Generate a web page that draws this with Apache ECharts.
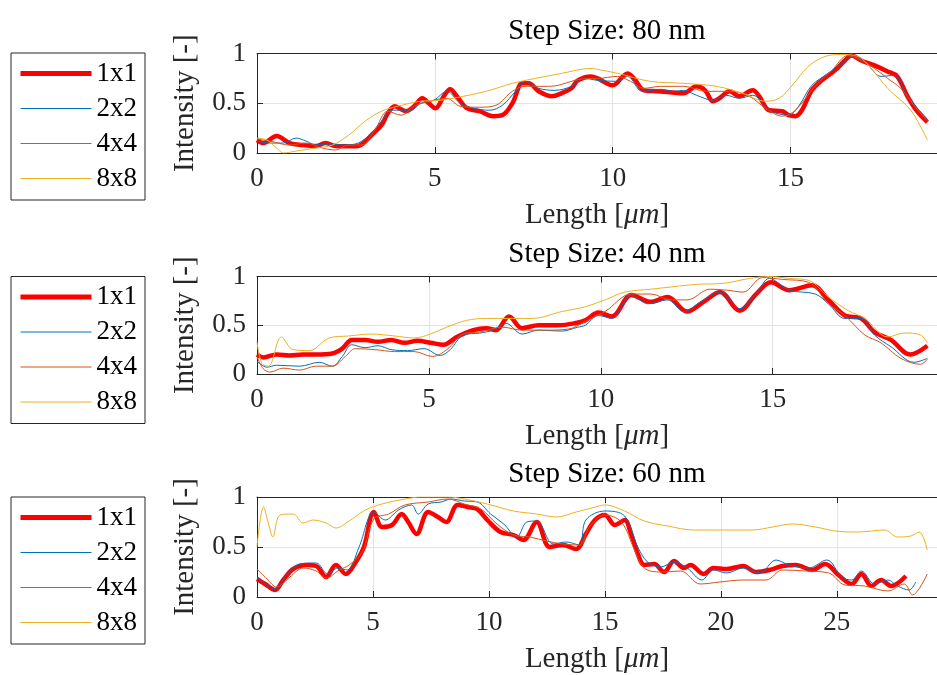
<!DOCTYPE html>
<html>
<head>
<meta charset="utf-8">
<script src="https://cdn.jsdelivr.net/npm/echarts@6/dist/echarts.min.js"></script>
<style>html,body{margin:0;padding:0;background:#fff}#c{width:937px;height:675px}</style>
</head>
<body>
<div id="c"></div>
<script>
// ---- data ----
const seriesNames = ['1x1', '2x2', '4x4', '8x8'];
const titles = ['Step Size: 80 nm', 'Step Size: 40 nm', 'Step Size: 60 nm'];
const xMax = [19.12, 19.78, 29.32];
const yTicks = [0, 0.5, 1];

const p1_1x1 = [[0,0.13],[0.18,0.1],[0.55,0.17],[0.92,0.1],[1.29,0.08],[1.66,0.07],[1.93,0.1],[2.2,0.07],[2.49,0.067],[2.85,0.07],[3.0,0.1],[3.22,0.18],[3.5,0.28],[3.68,0.4],[3.87,0.47],[4.05,0.44],[4.19,0.42],[4.42,0.47],[4.65,0.55],[4.83,0.5],[5.02,0.45],[5.25,0.57],[5.43,0.64],[5.62,0.57],[5.9,0.45],[6.26,0.42],[6.63,0.37],[6.9,0.38],[7.18,0.5],[7.46,0.7],[7.64,0.7],[7.92,0.62],[8.29,0.57],[8.56,0.6],[8.84,0.65],[9.02,0.73],[9.39,0.77],[9.58,0.75],[10,0.68],[10.42,0.8],[10.6,0.75],[10.88,0.63],[11.25,0.62],[11.62,0.61],[11.99,0.6],[12.36,0.67],[12.6,0.63],[12.82,0.52],[13.0,0.55],[13.29,0.62],[13.56,0.57],[13.94,0.63],[14.12,0.57],[14.4,0.43],[14.77,0.42],[14.95,0.38],[15.14,0.37],[15.32,0.43],[15.6,0.63],[15.88,0.73],[16.25,0.83],[16.53,0.93],[16.71,0.98],[16.99,0.93],[17.36,0.88],[17.73,0.82],[18.0,0.77],[18.29,0.57],[18.56,0.42],[18.85,0.31]];
const p1_2x2 = [[0,0.12],[0.37,0.1],[0.74,0.1],[1.1,0.15],[1.38,0.12],[1.66,0.08],[2.03,0.09],[2.39,0.08],[2.76,0.09],[3.13,0.17],[3.5,0.32],[3.78,0.43],[4.05,0.43],[4.33,0.43],[4.6,0.5],[4.97,0.53],[5.34,0.62],[5.71,0.5],[6.08,0.45],[6.54,0.43],[6.9,0.48],[7.27,0.62],[7.55,0.72],[7.92,0.65],[8.38,0.63],[8.84,0.67],[9.2,0.75],[9.58,0.73],[10.14,0.72],[10.42,0.77],[10.83,0.62],[11.34,0.64],[11.71,0.62],[11.99,0.63],[12.36,0.58],[12.82,0.53],[13.19,0.58],[13.56,0.55],[13.94,0.58],[14.4,0.43],[14.95,0.38],[15.23,0.47],[15.6,0.68],[16.06,0.8],[16.44,0.9],[16.71,0.97],[17.08,0.92],[17.55,0.77],[17.92,0.78],[18.29,0.57],[18.85,0.34]];
const p1_4x4 = [[0,0.14],[0.37,0.12],[0.92,0.08],[1.38,0.1],[1.84,0.05],[2.2,0.03],[2.58,0.08],[2.95,0.08],[3.31,0.23],[3.68,0.42],[4.05,0.38],[4.42,0.47],[4.97,0.53],[5.34,0.55],[5.71,0.47],[6.26,0.46],[6.72,0.48],[7.18,0.62],[7.55,0.67],[8.1,0.67],[8.47,0.68],[8.93,0.73],[9.39,0.75],[9.58,0.75],[10.14,0.77],[10.5,0.72],[10.88,0.65],[11.34,0.67],[11.99,0.67],[12.64,0.62],[13.29,0.62],[13.84,0.57],[14.3,0.45],[14.77,0.37],[15.14,0.43],[15.69,0.67],[16.16,0.83],[16.62,0.98],[16.99,0.93],[17.36,0.85],[17.73,0.75],[18.1,0.65],[18.47,0.48],[18.85,0.32]];
const p1_8x8 = [[0,0.15],[0.28,0.13],[0.55,0.05],[0.74,0.0],[1.1,0.02],[1.66,0.05],[2.12,0.08],[2.58,0.18],[3.04,0.32],[3.5,0.42],[3.96,0.47],[4.6,0.52],[5.16,0.53],[5.8,0.57],[6.45,0.62],[7.18,0.7],[7.83,0.75],[8.56,0.8],[9.39,0.85],[9.58,0.84],[10.14,0.8],[11.06,0.72],[11.99,0.7],[12.92,0.67],[13.66,0.6],[14.3,0.52],[14.68,0.55],[15.05,0.68],[15.5,0.87],[15.97,0.97],[16.44,0.99],[16.9,0.97],[17.27,0.85],[17.73,0.65],[18.38,0.43],[18.85,0.13]];

const p2_1x1 = [[0,0.2],[0.19,0.17],[0.57,0.2],[0.95,0.19],[1.33,0.2],[1.71,0.2],[2.19,0.21],[2.48,0.26],[2.76,0.35],[3.14,0.35],[3.52,0.33],[3.9,0.35],[4.29,0.32],[4.67,0.34],[5.05,0.32],[5.43,0.3],[5.81,0.38],[6.29,0.45],[6.67,0.47],[6.95,0.45],[7.33,0.59],[7.71,0.47],[8.19,0.5],[8.76,0.5],[9.24,0.52],[9.55,0.55],[9.93,0.63],[10.32,0.59],[10.89,0.81],[11.46,0.74],[11.94,0.79],[12.51,0.64],[12.99,0.74],[13.47,0.84],[14.04,0.65],[14.52,0.82],[14.95,0.94],[15.48,0.86],[16.15,0.91],[16.62,0.76],[17.1,0.6],[17.58,0.57],[17.96,0.43],[18.44,0.35],[19.0,0.2],[19.5,0.29]];
const p2_2x2 = [[0,0.13],[0.29,0.07],[0.57,0.09],[1.24,0.08],[1.81,0.12],[2.19,0.08],[2.48,0.18],[2.76,0.3],[3.14,0.27],[3.52,0.29],[3.9,0.25],[4.38,0.24],[4.86,0.26],[5.33,0.19],[5.62,0.25],[6.0,0.4],[6.48,0.42],[6.86,0.45],[7.24,0.52],[7.71,0.41],[8.19,0.45],[8.86,0.44],[9.33,0.48],[9.55,0.5],[9.93,0.6],[10.32,0.57],[10.89,0.81],[11.37,0.72],[11.94,0.76],[12.42,0.64],[12.9,0.74],[13.47,0.84],[14.04,0.67],[14.52,0.82],[14.9,0.98],[15.48,0.86],[16.24,0.82],[16.62,0.72],[17.1,0.57],[17.58,0.57],[17.96,0.4],[18.44,0.28],[19.11,0.12],[19.5,0.16]];
const p2_4x4 = [[0,0.18],[0.19,0.05],[0.38,0.02],[0.76,0.06],[1.24,0.04],[1.71,0.08],[2.19,0.08],[2.57,0.18],[2.86,0.26],[3.43,0.25],[4.0,0.23],[4.57,0.23],[5.1,0.18],[5.52,0.25],[6.0,0.41],[6.48,0.43],[7.14,0.48],[7.71,0.45],[8.38,0.45],[9.05,0.46],[9.55,0.54],[10.12,0.64],[10.89,0.82],[11.46,0.82],[12.04,0.76],[12.51,0.76],[13.18,0.87],[13.66,0.86],[14.14,0.84],[14.71,0.99],[15.29,0.97],[16.05,0.94],[16.62,0.72],[17.1,0.6],[17.68,0.4],[18.15,0.32],[18.73,0.16],[19.3,0.1],[19.5,0.15]];
const p2_8x8 = [[0,0.33],[0.14,0.11],[0.33,0.08],[0.71,0.38],[1.05,0.25],[1.52,0.24],[2.1,0.37],[2.67,0.39],[3.33,0.41],[4.0,0.39],[4.57,0.37],[5.05,0.41],[5.52,0.48],[6.1,0.55],[6.67,0.57],[7.43,0.57],[8.0,0.57],[8.86,0.64],[9.55,0.69],[10.12,0.76],[10.7,0.84],[11.46,0.87],[12.23,0.9],[12.8,0.92],[13.57,0.93],[14.33,0.98],[14.9,1.0],[15.48,0.98],[16.05,0.96],[16.62,0.79],[17.2,0.65],[17.68,0.57],[18.35,0.38],[18.82,0.42],[19.3,0.4],[19.5,0.32]];

const p3_1x1 = [[0,0.18],[0.35,0.13],[0.78,0.07],[1.13,0.17],[1.56,0.28],[2.13,0.32],[2.55,0.31],[2.98,0.2],[3.4,0.32],[3.83,0.23],[4.26,0.35],[4.61,0.5],[5.04,0.85],[5.39,0.7],[5.82,0.72],[6.24,0.83],[6.52,0.75],[6.88,0.63],[7.38,0.85],[7.8,0.8],[8.16,0.75],[8.65,0.92],[9.08,0.9],[9.5,0.88],[9.93,0.77],[10.5,0.65],[11.06,0.62],[11.49,0.57],[12.06,0.75],[12.62,0.5],[13.19,0.52],[13.76,0.48],[14.18,0.63],[14.57,0.77],[15.0,0.82],[15.43,0.72],[15.85,0.77],[16.13,0.63],[16.42,0.43],[16.7,0.32],[17.13,0.33],[17.55,0.25],[17.98,0.36],[18.4,0.29],[18.69,0.32],[19.26,0.23],[19.68,0.29],[20.26,0.28],[20.96,0.31],[21.52,0.25],[22.09,0.27],[22.66,0.31],[23.23,0.32],[23.94,0.27],[24.5,0.33],[25.07,0.22],[25.64,0.13],[26.06,0.23],[26.49,0.11],[26.91,0.17],[27.34,0.11],[27.98,0.21]];
const p3_2x2 = [[0,0.2],[0.43,0.12],[0.78,0.08],[1.28,0.22],[1.84,0.33],[2.55,0.34],[3.05,0.23],[3.48,0.29],[3.9,0.27],[4.4,0.5],[5.04,0.85],[5.53,0.77],[6.1,0.87],[6.67,0.92],[6.95,0.83],[7.38,0.93],[7.94,0.95],[8.37,0.98],[8.94,0.96],[9.5,0.95],[10.07,0.83],[10.64,0.73],[11.2,0.6],[11.63,0.75],[12.06,0.76],[12.77,0.53],[13.33,0.55],[13.9,0.52],[14.18,0.77],[15,0.86],[15.85,0.81],[16.42,0.5],[16.84,0.35],[17.41,0.3],[17.98,0.35],[18.55,0.29],[19.18,0.17],[19.68,0.27],[20.25,0.24],[20.96,0.29],[21.67,0.24],[22.38,0.37],[22.94,0.32],[23.79,0.29],[24.57,0.37],[25.21,0.2],[25.64,0.17],[26.06,0.26],[26.63,0.13],[27.2,0.17],[27.62,0.11],[28.12,0.07],[28.4,0.15]];
const p3_4x4 = [[0,0.28],[0.43,0.18],[0.85,0.1],[1.42,0.2],[1.99,0.29],[2.55,0.26],[2.98,0.19],[3.55,0.27],[3.97,0.32],[4.54,0.45],[5.04,0.78],[5.67,0.83],[6.38,0.92],[7.38,0.95],[8.23,0.98],[8.94,0.93],[9.65,0.88],[10.35,0.73],[11.06,0.62],[11.77,0.6],[12.48,0.56],[13.19,0.53],[13.9,0.52],[14.33,0.7],[15,0.82],[15.71,0.75],[16.28,0.47],[16.7,0.29],[17.41,0.25],[18.26,0.26],[19.11,0.13],[19.96,0.15],[20.96,0.17],[21.95,0.17],[22.66,0.27],[23.65,0.26],[24.65,0.24],[25.35,0.12],[26.2,0.11],[27.2,0.06],[27.91,0.13],[28.26,0.02],[28.9,0.23]];
const p3_8x8 = [[0,0.5],[0.28,0.9],[0.5,0.73],[0.68,0.6],[0.99,0.82],[1.56,0.83],[1.99,0.74],[2.41,0.77],[2.98,0.74],[3.4,0.69],[3.97,0.76],[4.68,0.87],[5.39,0.93],[6.38,0.98],[7.09,1.0],[8.23,1.0],[8.94,0.98],[9.93,0.93],[11.06,0.86],[12.06,0.83],[12.91,0.8],[13.76,0.85],[14.6,0.9],[15,0.92],[15.85,0.86],[16.7,0.76],[17.7,0.71],[18.83,0.67],[20.1,0.67],[21.38,0.67],[22.23,0.7],[23.09,0.73],[24.08,0.7],[24.93,0.66],[25.92,0.65],[27.06,0.67],[27.62,0.6],[28.19,0.61],[28.55,0.65],[28.9,0.47]];

const panels = [
  [p1_1x1, p1_2x2, p1_4x4, p1_8x8],
  [p2_1x1, p2_2x2, p2_4x4, p2_8x8],
  [p3_1x1, p3_2x2, p3_4x4, p3_8x8]
];

// ---- styles ----
const FONT = 'Liberation Serif';
const TICK_FS = 27, LABEL_FS = 29;
const colors = ['#FF0000', '#0072BD', '#D95319', '#EDB120'];
const widths = [4.5, 1, 1, 1];
const gridTops = [53.5, 276.5, 497];
const gridHeights = [99.5, 97.5, 100];
const legendTops = [53, 276.5, 497];
const AX = '#262626';

const grids = [], xAxes = [], yAxes = [], series = [], legends = [], titleArr = [];
panels.forEach((panel, p) => {
  grids.push({left: 257, top: gridTops[p], width: 690, height: gridHeights[p], containLabel: false});
  const xCommon = {
    type: 'value', gridIndex: p, min: 0, max: xMax[p], interval: 5,
    axisLine: {show: true, onZero: false, lineStyle: {color: AX, width: 1}},
    axisTick: {show: true, inside: true, length: 6, lineStyle: {color: AX}},
  };
  xAxes.push(Object.assign({}, xCommon, {
    position: 'bottom',
    splitLine: {show: true, lineStyle: {color: '#e3e3e3', width: 1}},
    axisLabel: {show: true, margin: 12, fontFamily: FONT, fontSize: TICK_FS, color: AX,
      formatter: v => (Math.abs(v % 5) < 1e-9 ? String(v) : ''), showMaxLabel: false},
    name: 'Length [{i|μm}]', nameLocation: 'middle', nameGap: 48,
    nameTextStyle: {fontFamily: FONT, fontSize: LABEL_FS, color: AX,
      rich: {i: {fontFamily: FONT, fontSize: LABEL_FS, fontStyle: 'italic', color: AX}}}
  }));
  xAxes.push(Object.assign({}, xCommon, {
    position: 'top', splitLine: {show: false}, axisLabel: {show: false}
  }));
  yAxes.push({
    type: 'value', gridIndex: p, min: 0, max: 1, interval: 0.5, position: 'left',
    axisLine: {show: true, lineStyle: {color: AX, width: 1}},
    axisTick: {show: true, inside: true, length: 6, lineStyle: {color: AX}},
    splitLine: {show: true, lineStyle: {color: '#e3e3e3', width: 1}},
    axisLabel: {margin: 11, fontFamily: FONT, fontSize: TICK_FS, color: AX,
      formatter: v => String(yTicks.find(t => Math.abs(t - v) < 1e-9) ?? '')},
    name: 'Intensity [-]', nameLocation: 'middle', nameGap: 57, nameRotate: 90,
    nameTextStyle: {fontFamily: FONT, fontSize: LABEL_FS, color: AX}
  });
  panel.forEach((data, k) => {
    series.push({
      type: 'line', name: seriesNames[k], xAxisIndex: 2 * p, yAxisIndex: p,
      data: data, showSymbol: false, symbol: 'none', smooth: 0.35,
      lineStyle: {color: colors[k], width: widths[k]}, itemStyle: {color: colors[k]},
      emphasis: {disabled: true}, silent: true, animation: false, clip: true
    });
  });
  legends.push({
    left: 11, top: legendTops[p], orient: 'vertical', selectedMode: false,
    itemWidth: 71, itemHeight: 14, itemGap: 8, padding: [7, 8, 8, 7],
    borderColor: AX, borderWidth: 1, backgroundColor: '#fff',
    itemStyle: {opacity: 0},
    textStyle: {fontFamily: FONT, fontSize: TICK_FS, color: '#000'},
    data: seriesNames.map((n, k) => ({name: n, itemStyle: {opacity: 0},
      lineStyle: {width: widths[k] + (k === 0 ? 0.5 : 0), opacity: 1}}))
  });
  titleArr.push({
    text: titles[p], left: 602, top: gridTops[p] - 42, textAlign: 'center',
    textStyle: {fontFamily: FONT, fontSize: LABEL_FS, fontWeight: 'normal', color: '#000'}
  });
});

const chart = echarts.init(document.getElementById('c'), null, {renderer: 'canvas'});
chart.setOption({
  animation: false,
  backgroundColor: '#fff',
  title: titleArr,
  legend: legends,
  grid: grids,
  xAxis: xAxes,
  yAxis: yAxes,
  series: series
});
</script>
</body>
</html>
